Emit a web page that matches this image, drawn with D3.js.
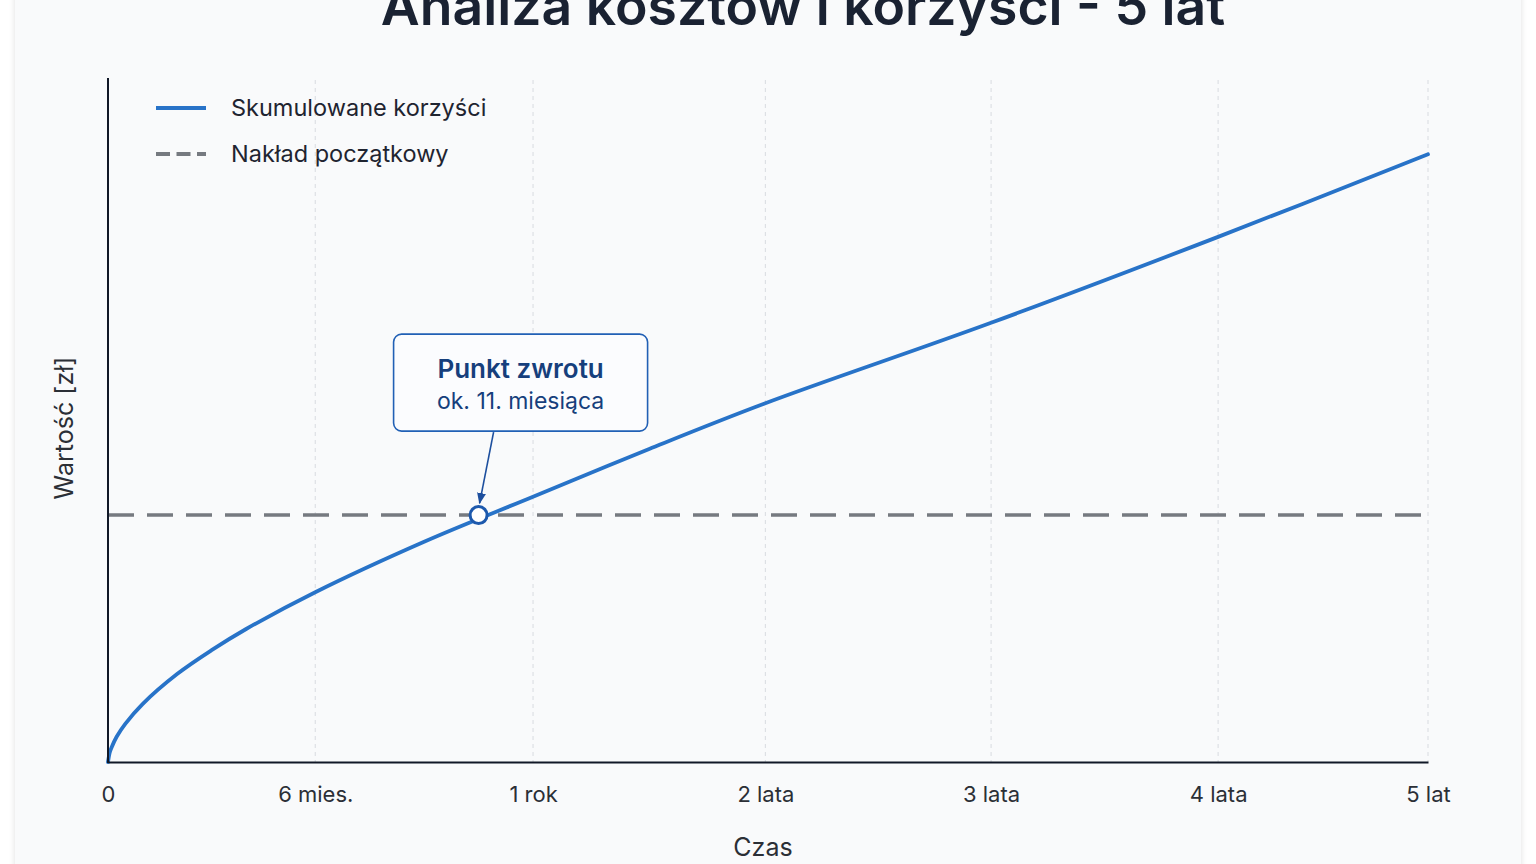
<!DOCTYPE html>
<html>
<head>
<meta charset="utf-8">
<script src="https://cdn.jsdelivr.net/npm/d3@7"></script>
<style>
  html, body { margin: 0; padding: 0; background: #ffffff; }
  svg { display: block; font-family: Inter, "Noto Sans", sans-serif; }
</style>
</head>
<body>
<div id="chart"></div>
<script>
// months since start, cumulative benefit (thousand zl)
const months = [0, 0.05, 0.1, 0.25, 0.5, 1, 2, 3, 4, 6, 9, 12, 18, 24, 36, 48, 60]
const benefits = [0, 1.4, 2.1, 3.7, 5.6, 8.5, 12.9, 16.4, 19.5, 24.9, 32.3, 38.9, 45.9, 52.6, 64.4, 77.0, 89.1]
const investment = 36.2
const breakEvenMonth = 10.5

const tickMonths = [0, 6, 12, 24, 36, 48, 60]
const tickLabels = ["0", "6 mies.", "1 rok", "2 lata", "3 lata", "4 lata", "5 lat"]
// axis is not linear in time: each tick gets its own share of the width
const tickShares = [0, 0.157, 0.322, 0.498, 0.669, 0.841, 1]

const width = 1536, height = 864
const margin = { left: 108, right: 108, top: 80, bottom: 102 }
const plotW = width - margin.left - margin.right
const plotH = height - margin.top - margin.bottom

const svg = d3.select("#chart").append("svg")
    .attr("width", width)
    .attr("height", height)

const defs = svg.append("defs")
const shadow = defs.append("filter").attr("id", "shadow")
    .attr("x", "-5%").attr("y", "-5%").attr("width", "110%").attr("height", "110%")
shadow.append("feDropShadow")
    .attr("dx", 0).attr("dy", 0).attr("stdDeviation", 3)
    .attr("flood-color", "#000").attr("flood-opacity", 0.12)

defs.append("marker")
    .attr("id", "arrow")
    .attr("viewBox", "0 0 10 10")
    .attr("refX", 9).attr("refY", 5)
    .attr("markerWidth", 7).attr("markerHeight", 7)
    .attr("orient", "auto-start-reverse")
    .append("path")
    .attr("d", "M0,1 L10,5 L0,9 Z")
    .attr("fill", "#1d4f9e")

// card
svg.append("rect")
    .attr("x", 15).attr("y", -20)
    .attr("width", 1506).attr("height", height + 40)
    .attr("fill", "#f9fafb")
    .attr("filter", "url(#shadow)")

const x = d3.scaleLinear()
    .domain(tickMonths)
    .range(tickShares.map(s => margin.left + s * plotW))

const y = d3.scaleLinear()
    .domain([0, 100])
    .range([margin.top + plotH, margin.top])

// title
svg.append("text")
    .attr("x", 803).attr("y", 25)
    .attr("text-anchor", "middle")
    .attr("font-size", 53.5)
    .attr("font-weight", 600)
    .attr("fill", "#1a2232")
    .text("Analiza kosztów i korzyści - 5 lat")

// grid
svg.append("g")
    .selectAll("line")
    .data(tickMonths.slice(1))
    .join("line")
    .attr("x1", d => x(d)).attr("x2", d => x(d))
    .attr("y1", margin.top).attr("y2", margin.top + plotH)
    .attr("stroke", "#d8dbe0")
    .attr("stroke-width", 1)
    .attr("stroke-dasharray", "4,4")

// investment line
svg.append("line")
    .attr("x1", x(0)).attr("x2", x(60))
    .attr("y1", y(investment)).attr("y2", y(investment))
    .attr("stroke", "#767a80")
    .attr("stroke-width", 3.5)
    .attr("stroke-dasharray", "26,13")

// benefits curve
const line = d3.line()
    .x(d => x(d[0]))
    .y(d => y(d[1]))
    .curve(d3.curveCatmullRom.alpha(0.5))

svg.append("path")
    .datum(months.map((m, i) => [m, benefits[i]]))
    .attr("d", line)
    .attr("fill", "none")
    .attr("stroke", "#2873c8")
    .attr("stroke-width", 3.8)
    .attr("stroke-linecap", "round")

// axes
const xAxis = svg.append("g")
    .attr("transform", "translate(0," + (margin.top + plotH) + ")")
    .call(d3.axisBottom(x).tickValues(tickMonths).tickFormat((d, i) => tickLabels[i]).tickSize(0).tickPadding(24))
xAxis.select(".domain").attr("stroke", "#111827").attr("stroke-width", 2)
xAxis.selectAll("text")
    .attr("font-size", 22)
    .attr("fill", "#2b2f36")
    .attr("font-family", "Inter, sans-serif")

svg.append("line")
    .attr("x1", margin.left).attr("x2", margin.left)
    .attr("y1", margin.top - 2).attr("y2", margin.top + plotH + 1)
    .attr("stroke", "#111827").attr("stroke-width", 2)

svg.append("text")
    .attr("x", margin.left + plotW / 2 - 5).attr("y", 856)
    .attr("text-anchor", "middle")
    .attr("font-size", 25)
    .attr("fill", "#2b2f36")
    .text("Czas")

svg.append("text")
    .attr("transform", "translate(73," + (margin.top + plotH / 2 + 7) + ") rotate(-90)")
    .attr("text-anchor", "middle")
    .attr("font-size", 25)
    .attr("fill", "#2b2f36")
    .text("Wartość [zł]")

// legend
const legend = svg.append("g").attr("transform", "translate(156,108)")
legend.append("line")
    .attr("x1", 0).attr("x2", 50).attr("y1", 0).attr("y2", 0)
    .attr("stroke", "#2873c8").attr("stroke-width", 4)
legend.append("text")
    .attr("x", 75).attr("y", 8)
    .attr("font-size", 23.5).attr("fill", "#1f2430")
    .text("Skumulowane korzyści")
legend.append("line")
    .attr("x1", 0).attr("x2", 50).attr("y1", 46).attr("y2", 46)
    .attr("stroke", "#767a80").attr("stroke-width", 4)
    .attr("stroke-dasharray", "14,6.5")
legend.append("text")
    .attr("x", 75).attr("y", 54)
    .attr("font-size", 23.5).attr("fill", "#1f2430")
    .text("Nakład początkowy")

// break-even annotation
const bx = x(breakEvenMonth), by = y(investment)
const boxW = 254, boxH = 97
const boxX = bx + 42 - boxW / 2, boxY = by - 181

svg.append("line")
    .attr("x1", bx + 15).attr("y1", boxY + boxH + 1)
    .attr("x2", bx + 1).attr("y2", by - 12)
    .attr("stroke", "#1d4f9e").attr("stroke-width", 1.6)
    .attr("marker-end", "url(#arrow)")

const box = svg.append("g")
box.append("rect")
    .attr("x", boxX).attr("y", boxY)
    .attr("width", boxW).attr("height", boxH)
    .attr("rx", 8)
    .attr("fill", "#fbfcfe")
    .attr("stroke", "#2160b5").attr("stroke-width", 1.6)
box.append("text")
    .attr("x", boxX + boxW / 2).attr("y", boxY + 44)
    .attr("text-anchor", "middle")
    .attr("font-size", 26).attr("font-weight", 600)
    .attr("fill", "#163f7c")
    .text("Punkt zwrotu")
box.append("text")
    .attr("x", boxX + boxW / 2).attr("y", boxY + 75)
    .attr("text-anchor", "middle")
    .attr("font-size", 23)
    .attr("fill", "#163f7c")
    .text("ok. 11. miesiąca")

svg.append("circle")
    .attr("cx", bx).attr("cy", by)
    .attr("r", 8.5)
    .attr("fill", "#ffffff")
    .attr("stroke", "#1d59ad").attr("stroke-width", 3)
</script>
</body>
</html>
